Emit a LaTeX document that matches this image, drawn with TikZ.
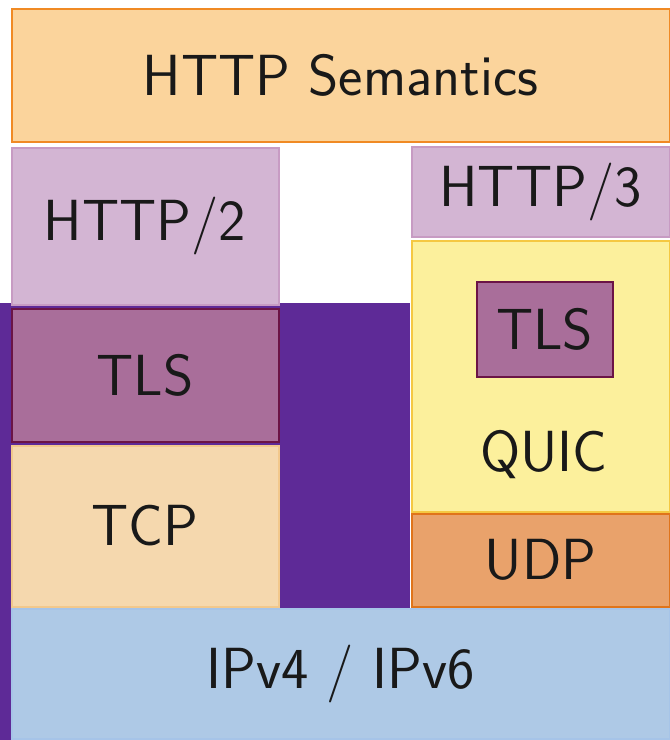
\documentclass[tikz,border=0pt]{standalone}
\usepackage{xcolor}

\definecolor{semfill}{HTML}{FBD49C}
\definecolor{semline}{HTML}{F08A24}
\definecolor{appfill}{HTML}{D3B5D3}
\definecolor{appline}{HTML}{C79BC3}
\definecolor{tlsfill}{HTML}{A96E9A}
\definecolor{tlsline}{HTML}{6B1446}
\definecolor{tcpfill}{HTML}{F5D8AE}
\definecolor{tcpline}{HTML}{F2C88C}
\definecolor{quicfill}{HTML}{FCF09C}
\definecolor{quicline}{HTML}{F5C842}
\definecolor{udpfill}{HTML}{E9A26B}
\definecolor{udpline}{HTML}{E0741A}
\definecolor{ipfill}{HTML}{AEC9E6}
\definecolor{ipline}{HTML}{A6C4E8}
\definecolor{backpurple}{HTML}{5E2A97}

\begin{document}
\begin{tikzpicture}[x=1pt, y=-1pt,
    layer/.style={rectangle, draw, line width=2pt, inner sep=0pt,
      font=\fontsize{58}{62}\selectfont\sffamily, text=black!90}]
   \useasboundingbox (0,0) rectangle (670,740);
   \fill[backpurple] (0,303) rectangle (410,740);
   \foreach \n/\x/\y/\w/\h/\c/\t in
     { sem/340.5/75/658/133/sem/{HTTP Semantics},
       httptwo/145/226/267/157/app/{HTTP/2},
       tlsl/145/375/267/133/tls/{TLS},
       tcp/145/526/267/161/tcp/{TCP},
       httpthree/540.5/192/258/90/app/{HTTP/3},
       quic/540.5/376/258/271/quic/{},
       udp/540.5/560/258/93/udp/{UDP},
       ip/340.5/674/658/130/ip/{IPv4 / IPv6}
     }
     \node[layer, fill=\c fill, draw=\c line, minimum width=\w pt,
       minimum height=\h pt] (\n) at (\x,\y) {\t};
   \node[layer, fill=tlsfill, draw=tlsline, minimum width=136pt,
     minimum height=95pt] (tlsr) at (544.5,329) {TLS};
   \node[layer, draw=none] (quictext) at (544,455) {QUIC};
\end{tikzpicture}
\end{document}
